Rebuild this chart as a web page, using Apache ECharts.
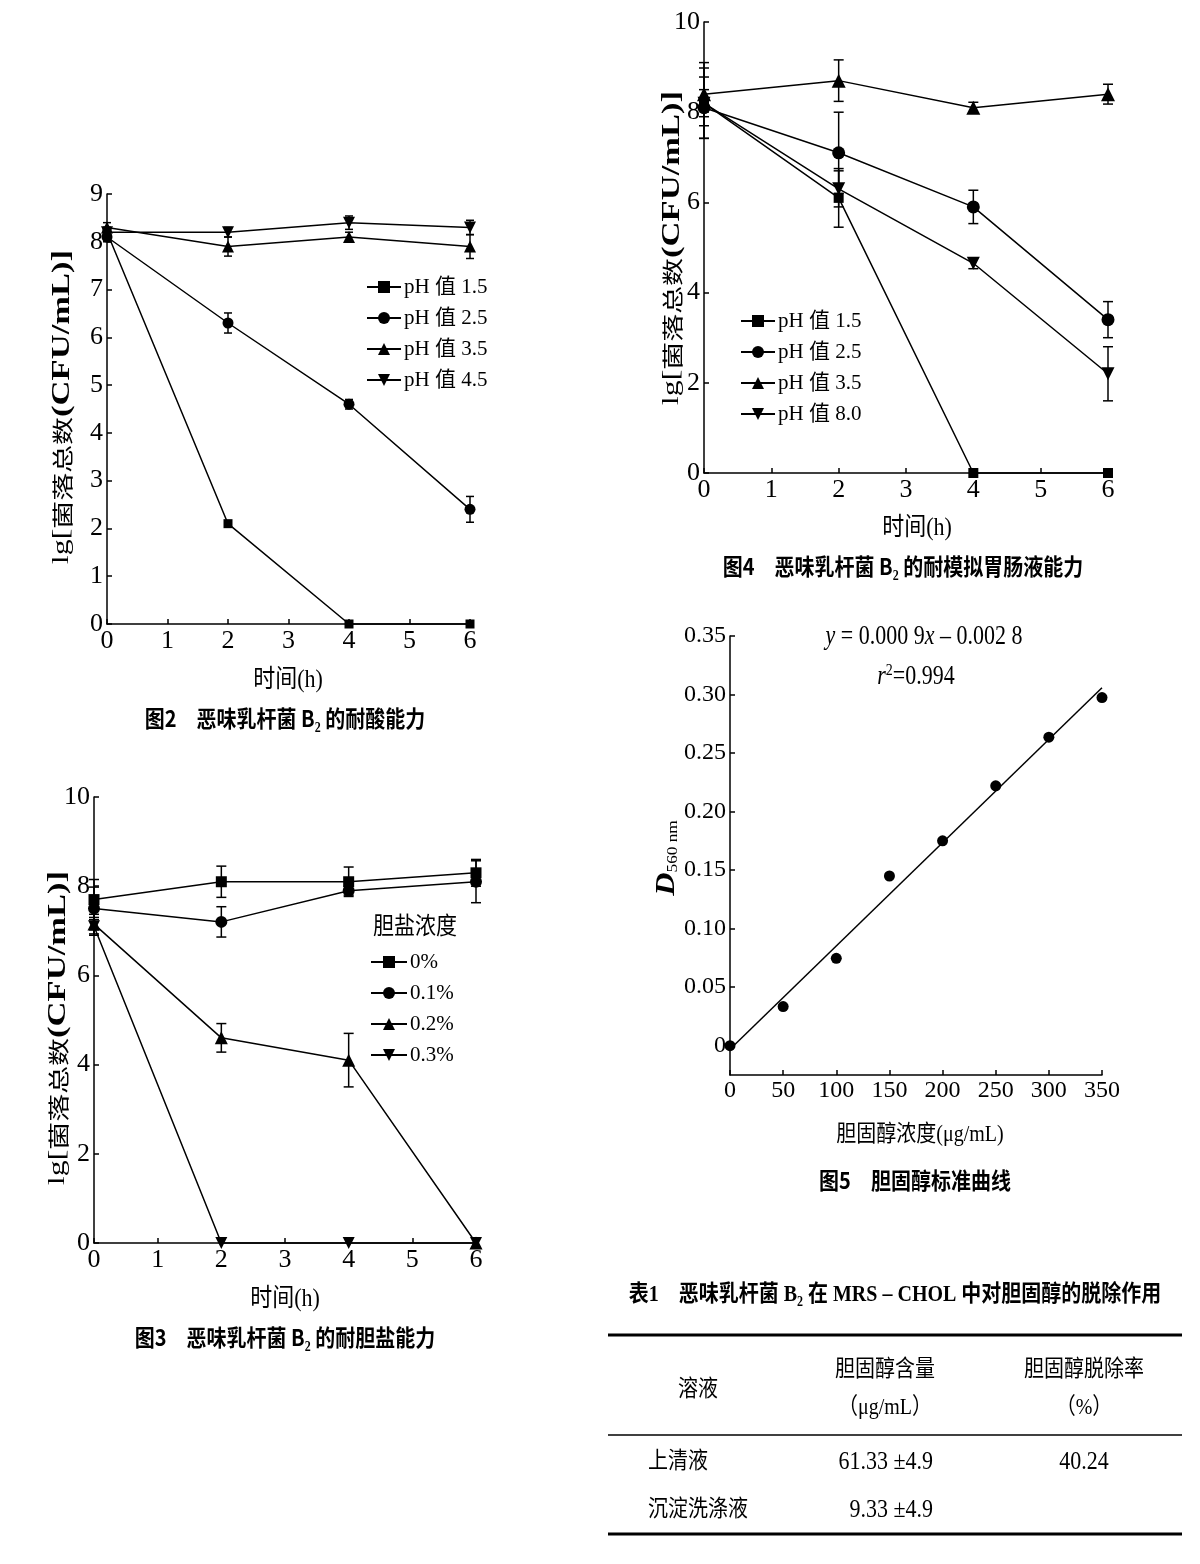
<!DOCTYPE html>
<html><head><meta charset="utf-8">
<script src="https://cdn.jsdelivr.net/npm/echarts@6/dist/echarts.min.js"></script>
<style>html,body{margin:0;padding:0;background:#fff}#c{width:1200px;height:1564px}</style>
</head><body><div id="c"></div>
<script>
// ================= DATA =================
const timeH = [0, 2, 4, 6];
const timeTicks = [0, 1, 2, 3, 4, 5, 6];

// Fig 2 – acid tolerance
const fig2Names = ['pH 值 1.5', 'pH 值 2.5', 'pH 值 3.5', 'pH 值 4.5'];
const fig2_pH15 = [8.2, 2.1, 0, 0];
const fig2_pH25 = [8.1, 6.3, 4.6, 2.4];
const fig2_pH35 = [8.3, 7.9, 8.1, 7.9];
const fig2_pH45 = [8.2, 8.2, 8.4, 8.3];
const fig2_err15 = [0.1, 0.06, 0, 0];
const fig2_err25 = [0.1, 0.21, 0.1, 0.27];
const fig2_err35 = [0.1, 0.2, 0.1, 0.25];
const fig2_err45 = [0.1, 0.1, 0.14, 0.15];

// Fig 4 – simulated gastric/intestinal fluid
const fig4Names = ['pH 值 1.5', 'pH 值 2.5', 'pH 值 3.5', 'pH 值 8.0'];
const fig4_pH15 = [8.2, 6.1, 0, 0];
const fig4_pH25 = [8.1, 7.1, 5.9, 3.4];
const fig4_pH35 = [8.4, 8.7, 8.1, 8.4];
const fig4_pH80 = [8.2, 6.3, 4.65, 2.2];
const fig4_err15 = [0.78, 0.65, 0, 0];
const fig4_err25 = [0.68, 0.9, 0.37, 0.4];
const fig4_err35 = [0.7, 0.46, 0.12, 0.22];
const fig4_err80 = [0.3, 0.4, 0.12, 0.6];

// Fig 3 – bile salt tolerance
const fig3LegendTitle = '胆盐浓度';
const fig3Names = ['0%', '0.1%', '0.2%', '0.3%'];
const fig3_b00 = [7.7, 8.1, 8.1, 8.3];
const fig3_b01 = [7.5, 7.2, 7.9, 8.1];
const fig3_b02 = [7.15, 4.6, 4.1, 0];
const fig3_b03 = [7.1, 0, 0, 0];
const fig3_err00 = [0.45, 0.35, 0.33, 0.3];
const fig3_err01 = [0.48, 0.34, 0.1, 0.47];
const fig3_err02 = [0.22, 0.32, 0.6, 0];
const fig3_err03 = [0.2, 0, 0, 0];

// Fig 5 – cholesterol standard curve
const cholConc = [0, 50, 100, 150, 200, 250, 300, 350];
const cholD560 = [0, 0.0335, 0.0747, 0.145, 0.175, 0.222, 0.2636, 0.2974];
const fig5YTicks = [0, 0.05, 0.10, 0.15, 0.20, 0.25, 0.30, 0.35];

// Table 1
const tableTitle = '表1\u3000恶味乳杆菌 B₂ 在 MRS – CHOL 中对胆固醇的脱除作用';
const tableHead1 = ['溶液', '胆固醇含量', '胆固醇脱除率'];
const tableHead2 = ['', '（μg/mL）', '（%）'];
const tableRowNames = ['上清液', '沉淀洗涤液'];
const tableContent = ['61.33 ±4.9', '9.33 ±4.9'];
const tableRemoval = ['40.24', ''];

// ================= BUILD =================
const SERIF = "'Liberation Serif','Noto Sans CJK SC'";
const CJK = "'Noto Sans CJK SC'";
const TRI_DOWN = 'path://M0,0L10,0L5,9Z';
const TALL = 1.15; // glyphs in the reference are taller than wide

function lineSeries(g, name, ys, xs, symbol, size) {
  return {
    type: 'line', name: name, xAxisIndex: g, yAxisIndex: g,
    data: xs.map((x, i) => [x, ys[i]]),
    symbol: symbol, symbolSize: size, showAllSymbol: true,
    lineStyle: { color: '#000', width: 1.5 },
    itemStyle: { color: '#000', borderWidth: 0, opacity: 1 },
    clip: false, z: 3, animation: false
  };
}
function errSeries(g, ys, errs, xs, cap) {
  const data = [];
  xs.forEach((x, i) => { if (errs[i] > 0) data.push([x, ys[i] - errs[i], ys[i] + errs[i]]); });
  return {
    type: 'custom', xAxisIndex: g, yAxisIndex: g, silent: true, z: 2, animation: false,
    encode: { x: 0, y: [1, 2] },
    renderItem: function (params, api) {
      const x = api.value(0);
      const lo = api.coord([x, api.value(1)]);
      const hi = api.coord([x, api.value(2)]);
      const st = { stroke: '#000', lineWidth: 1.5 };
      return { type: 'group', children: [
        { type: 'line', shape: { x1: lo[0], y1: lo[1], x2: hi[0], y2: hi[1] }, style: st },
        { type: 'line', shape: { x1: lo[0] - cap, y1: lo[1], x2: lo[0] + cap, y2: lo[1] }, style: st },
        { type: 'line', shape: { x1: hi[0] - cap, y1: hi[1], x2: hi[0] + cap, y2: hi[1] }, style: st }
      ]};
    },
    data: data
  };
}
function axisBase(extra, fs) {
  return Object.assign({
    type: 'value',
    axisLine: { show: true, onZero: false, lineStyle: { color: '#000', width: 1.5 } },
    axisTick: { show: true, inside: true, length: 5, lineStyle: { color: '#000', width: 1.5 } },
    axisLabel: { color: '#000', fontFamily: 'Liberation Serif', fontSize: fs || 26, margin: 4 },
    splitLine: { show: false }
  }, extra);
}

// least-squares regression line from the standard-curve data
const n5 = cholConc.length;
const mx = cholConc.reduce((a, b) => a + b, 0) / n5;
const my = cholD560.reduce((a, b) => a + b, 0) / n5;
let sxy = 0, sxx = 0;
for (let i = 0; i < n5; i++) { sxy += (cholConc[i] - mx) * (cholD560[i] - my); sxx += (cholConc[i] - mx) ** 2; }
const slope = sxy / sxx, icpt = my - slope * mx;
const fitX = [cholConc[0], cholConc[n5 - 1]];
const fitY = fitX.map(x => slope * x + icpt);

const P = (f, n) => f + '|' + n;
const series = [
  // Fig 2 (grid 0)
  errSeries(0, fig2_pH15, fig2_err15, timeH, 4),
  errSeries(0, fig2_pH25, fig2_err25, timeH, 4),
  errSeries(0, fig2_pH35, fig2_err35, timeH, 4),
  errSeries(0, fig2_pH45, fig2_err45, timeH, 4),
  lineSeries(0, P('f2', fig2Names[0]), fig2_pH15, timeH, 'rect', 9),
  lineSeries(0, P('f2', fig2Names[1]), fig2_pH25, timeH, 'circle', 11),
  lineSeries(0, P('f2', fig2Names[2]), fig2_pH35, timeH, 'triangle', 12),
  lineSeries(0, P('f2', fig2Names[3]), fig2_pH45, timeH, TRI_DOWN, 12),
  // Fig 4 (grid 1)
  errSeries(1, fig4_pH15, fig4_err15, timeH, 5),
  errSeries(1, fig4_pH25, fig4_err25, timeH, 5),
  errSeries(1, fig4_pH35, fig4_err35, timeH, 5),
  errSeries(1, fig4_pH80, fig4_err80, timeH, 5),
  lineSeries(1, P('f4', fig4Names[0]), fig4_pH15, timeH, 'rect', 10),
  lineSeries(1, P('f4', fig4Names[1]), fig4_pH25, timeH, 'circle', 13),
  lineSeries(1, P('f4', fig4Names[2]), fig4_pH35, timeH, 'triangle', 14),
  lineSeries(1, P('f4', fig4Names[3]), fig4_pH80, timeH, TRI_DOWN, 13),
  // Fig 3 (grid 2)
  errSeries(2, fig3_b00, fig3_err00, timeH, 5),
  errSeries(2, fig3_b01, fig3_err01, timeH, 5),
  errSeries(2, fig3_b02, fig3_err02, timeH, 5),
  errSeries(2, fig3_b03, fig3_err03, timeH, 5),
  lineSeries(2, P('f3', fig3Names[0]), fig3_b00, timeH, 'rect', 11),
  lineSeries(2, P('f3', fig3Names[1]), fig3_b01, timeH, 'circle', 12),
  lineSeries(2, P('f3', fig3Names[2]), fig3_b02, timeH, 'triangle', 13),
  lineSeries(2, P('f3', fig3Names[3]), fig3_b03, timeH, TRI_DOWN, 12),
  // Fig 5 (grid 3)
  Object.assign(lineSeries(3, 'fit', fitY, fitX, 'none', 0), { lineStyle: { color: '#000', width: 1.5 }, z: 2 }),
  { type: 'scatter', xAxisIndex: 3, yAxisIndex: 3, data: cholConc.map((x, i) => [x, cholD560[i]]),
    symbol: 'circle', symbolSize: 11, itemStyle: { color: '#000', opacity: 1 }, z: 4, clip: false, animation: false }
];

function legendFor(prefix, names, left, top, iw) {
  return {
    orient: 'vertical', left: left, top: top, padding: 0,
    itemWidth: iw, itemHeight: 15, itemGap: 9, selectedMode: false,
    data: names.map(n => P(prefix, n)),
    formatter: name => name.split('|')[1],
    textStyle: { color: '#000', fontFamily: SERIF, fontSize: 21, lineHeight: 22, padding: [0, 0, 0, -2] }
  };
}

function txt(x, y, text, font, align, sy) {
  return { type: 'text', x: x, y: y, scaleY: sy || TALL, silent: true,
    style: { text: text, font: font, fill: '#000', align: align || 'center', verticalAlign: 'middle' } };
}
function yTitle(x, y) {
  return { type: 'text', x: x, y: y, rotation: Math.PI / 2, scaleX: 1.33, silent: true,
    style: { text: '{a|lg[}{b|菌落总数}{c|(CFU/mL)]}', align: 'center', verticalAlign: 'middle', fill: '#000',
      rich: {
        a: { fontFamily: 'Liberation Serif', fontSize: 24, fill: '#000' },
        b: { fontFamily: CJK, fontSize: 21, fill: '#000' },
        c: { fontFamily: 'Liberation Serif', fontSize: 26, fontWeight: 'bold', fill: '#000' }
      } } };
}

const graphics = [
  // Fig 2 texts
  yTitle(62, 407),
  txt(288, 680, '时间(h)', '22px ' + SERIF),
  txt(285, 718, '图2\u3000恶味乳杆菌 B₂ 的耐酸能力', 'bold 20px ' + CJK),
  // Fig 4 texts
  yTitle(672, 248),
  txt(917, 528, '时间(h)', '22px ' + SERIF),
  txt(903, 566, '图4\u3000恶味乳杆菌 B₂ 的耐模拟胃肠液能力', 'bold 20px ' + CJK),
  // Fig 3 texts
  yTitle(58, 1028),
  txt(373, 925, fig3LegendTitle, '21px ' + CJK, 'left'),
  txt(285, 1299, '时间(h)', '22px ' + SERIF),
  txt(285, 1337, '图3\u3000恶味乳杆菌 B₂ 的耐胆盐能力', 'bold 20px ' + CJK),
  // Fig 5 texts
  { type: 'text', x: 667, y: 858, rotation: Math.PI / 2, scaleX: 1.15, silent: true,
    style: { text: '{d|D}{s|560 nm}', align: 'center', verticalAlign: 'middle', fill: '#000',
      rich: { d: { fontFamily: 'Liberation Serif', fontSize: 28, fontStyle: 'italic', fontWeight: 'bold', fill: '#000', lineHeight: 28 },
              s: { fontFamily: 'Liberation Serif', fontSize: 15, fill: '#000', verticalAlign: 'bottom', lineHeight: 17 } } } },
  { type: 'text', x: 924, y: 637, scaleY: 1.2, silent: true,
    style: { text: '{i|y} = 0.000 9{i|x} – 0.002 8', font: '22px Liberation Serif', align: 'center', verticalAlign: 'middle', fill: '#000',
      rich: { i: { fontFamily: 'Liberation Serif', fontSize: 22, fontStyle: 'italic', fill: '#000' } } } },
  { type: 'text', x: 916, y: 677, scaleY: 1.2, silent: true,
    style: { text: '{i|r}{s|2}=0.994', font: '22px Liberation Serif', align: 'center', verticalAlign: 'middle', fill: '#000',
      rich: { i: { fontFamily: 'Liberation Serif', fontSize: 22, fontStyle: 'italic', fill: '#000', lineHeight: 24 },
              s: { fontFamily: 'Liberation Serif', fontSize: 14, fill: '#000', verticalAlign: 'top', lineHeight: 24 } } } },
  txt(920, 1135, '胆固醇浓度(μg/mL)', '20px ' + SERIF),
  txt(915, 1180, '图5\u3000胆固醇标准曲线', 'bold 20px ' + CJK),
  // Table 1
  txt(895, 1295, tableTitle, 'bold 20px ' + SERIF),
  { type: 'line', silent: true, shape: { x1: 608, y1: 1335, x2: 1182, y2: 1335 }, style: { stroke: '#000', lineWidth: 3 } },
  { type: 'line', silent: true, shape: { x1: 608, y1: 1435, x2: 1182, y2: 1435 }, style: { stroke: '#000', lineWidth: 1.5 } },
  { type: 'line', silent: true, shape: { x1: 608, y1: 1534, x2: 1182, y2: 1534 }, style: { stroke: '#000', lineWidth: 3 } },
  txt(698, 1390, tableHead1[0], '20px ' + SERIF),
  txt(885, 1370, tableHead1[1], '20px ' + SERIF),
  txt(885, 1408, tableHead2[1], '20px ' + SERIF),
  txt(1084, 1370, tableHead1[2], '20px ' + SERIF),
  txt(1084, 1408, tableHead2[2], '20px ' + SERIF),
  txt(648, 1462, tableRowNames[0], '20px ' + SERIF, 'left'),
  txt(648, 1510, tableRowNames[1], '20px ' + SERIF, 'left'),
  txt(933, 1462, tableContent[0], '22px ' + SERIF, 'right'),
  txt(933, 1510, tableContent[1], '22px ' + SERIF, 'right'),
  txt(1084, 1462, tableRemoval[0], '22px ' + SERIF),
  txt(1084, 1510, tableRemoval[1], '22px ' + SERIF)
];

const option = {
  backgroundColor: '#fff',
  animation: false,
  grid: [
    { left: 107, top: 194, width: 363, height: 430 },
    { left: 704, top: 22, width: 404, height: 451 },
    { left: 94, top: 797, width: 382, height: 446 },
    { left: 730, top: 636, width: 372, height: 439 }
  ],
  xAxis: [
    axisBase({ gridIndex: 0, min: timeTicks[0], max: timeTicks[timeTicks.length - 1], interval: 1 }),
    axisBase({ gridIndex: 1, min: timeTicks[0], max: timeTicks[timeTicks.length - 1], interval: 1 }),
    axisBase({ gridIndex: 2, min: timeTicks[0], max: timeTicks[timeTicks.length - 1], interval: 1 }),
    axisBase({ gridIndex: 3, min: 0, max: 350, interval: 50 }, 24)
  ],
  yAxis: [
    axisBase({ gridIndex: 0, min: 0, max: 9, interval: 1 }),
    axisBase({ gridIndex: 1, min: 0, max: 10, interval: 2 }),
    axisBase({ gridIndex: 2, min: 0, max: 10, interval: 2 }),
    (function () {
      const a = axisBase({ gridIndex: 3, min: -0.025, max: 0.35 }, 24);
      a.axisTick.customValues = fig5YTicks;
      a.axisLabel.customValues = fig5YTicks;
      a.axisLabel.formatter = v => (Math.abs(v) < 1e-9 ? '0' : v.toFixed(2));
      return a;
    })()
  ],
  legend: [
    legendFor('f2', fig2Names, 366, 276, 34),
    legendFor('f4', fig4Names, 740, 310, 34),
    legendFor('f3', fig3Names, 370, 951, 36)
  ],
  series: series,
  graphic: graphics
};

const chart = echarts.init(document.getElementById('c'), null, { renderer: 'canvas', width: 1200, height: 1564 });
chart.setOption(option);
</script>
</body></html>
